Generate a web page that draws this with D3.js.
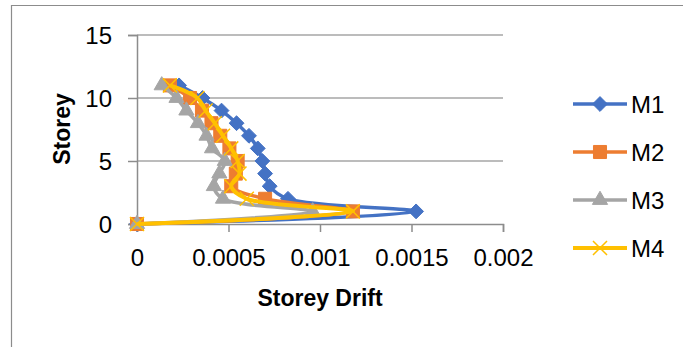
<!DOCTYPE html>
<html>
<head>
<meta charset="utf-8">
<script src="https://cdn.jsdelivr.net/npm/d3@7"></script>
<style>
  body { margin: 0; background: #fff; }
  svg { display: block; font-family: "Liberation Sans", Arial, sans-serif; }
</style>
</head>
<body>
<div id="chart"></div>
<script>
// storey levels and drift per model
let storeys = [0, 1, 2, 3, 4, 5, 6, 7, 8, 9, 10, 11];
let m1 = [0, 0.001525, 0.000825, 0.000725, 0.0007, 0.000685, 0.00066, 0.000612, 0.000544, 0.000462, 0.000358, 0.00023];
let m2 = [0, 0.00118, 0.0007, 0.000515, 0.00054, 0.00055, 0.000505, 0.000455, 0.000407, 0.000355, 0.00029, 0.00018];
let m3 = [0, 0.00096, 0.00047, 0.00042, 0.00045, 0.00048, 0.00041, 0.00038, 0.000333, 0.00027, 0.000216, 0.000135];
let m4 = [0, 0.00118, 0.0006, 0.000515, 0.00056, 0.00055, 0.000515, 0.00047, 0.000425, 0.000375, 0.00033, 0.00018];
let seriesNames = ["M1", "M2", "M3", "M4"];
let xTicks = [0, 0.0005, 0.001, 0.0015, 0.002];
let yTicks = [0, 5, 10, 15];

let colors = ["#4472C4", "#ED7D31", "#A5A5A5", "#FFC000"];

// excel-like square diamond
let squareDiamond = {
    draw: function(ctx, size) {
        let r = Math.sqrt(size / 2);
        ctx.moveTo(0, -r);
        ctx.lineTo(r, 0);
        ctx.lineTo(0, r);
        ctx.lineTo(-r, 0);
        ctx.closePath();
    }
};
let symbols = [squareDiamond, d3.symbolSquare, d3.symbolTriangle, d3.symbolX];
let symSizes = [110, 170, 100, 130];

function main() {
    let W = 683, H = 347;
    let margin = {top: 35, left: 137},
        width = 366,
        height = 189;

    let svg = d3.select("#chart").append("svg")
        .attr("width", W)
        .attr("height", H);

    // outer frame
    svg.append("path")
        .attr("d", "M11.5," + H + "V5.5H" + W)
        .attr("fill", "none")
        .attr("stroke", "#8c8c8c")
        .attr("stroke-width", 1.2);

    let g = svg.append("g")
        .attr("transform", "translate(" + margin.left + "," + margin.top + ")");

    let x = d3.scaleLinear().domain([0, 0.002]).range([0, width]);
    let y = d3.scaleLinear().domain([0, 15]).range([height, 0]);

    // gridlines
    g.selectAll(".grid")
        .data(yTicks.filter(function(d) { return d > 0; }))
        .enter()
        .append("line")
        .attr("x1", 0)
        .attr("x2", width)
        .attr("y1", function(d) { return y(d); })
        .attr("y2", function(d) { return y(d); })
        .attr("stroke", "#a6a6a6")
        .attr("stroke-width", 1.5);

    // y axis
    let yAxis = g.append("g")
        .call(d3.axisLeft(y).tickValues(yTicks).tickSize(9).tickPadding(16));
    // x axis
    let xAxis = g.append("g")
        .attr("transform", "translate(0," + height + ")")
        .call(d3.axisBottom(x).tickValues(xTicks).tickSize(8).tickPadding(17)
            .tickFormat(function(d) { return String(d); }));

    [xAxis, yAxis].forEach(function(a) {
        a.select(".domain").attr("stroke", "#8c8c8c").attr("stroke-width", 1.5);
        a.selectAll(".tick line").attr("stroke", "#8c8c8c").attr("stroke-width", 1.5);
        a.selectAll(".tick text")
            .attr("fill", "#000")
            .style("font-size", "24px")
            .style("font-family", "'Liberation Sans', Arial, sans-serif");
    });
    yAxis.selectAll(".tick text").attr("dy", "0.36em");

    // axis titles
    svg.append("text")
        .attr("x", 320)
        .attr("y", 306)
        .attr("text-anchor", "middle")
        .style("font-size", "23px")
        .style("font-weight", "bold")
        .text("Storey Drift");
    svg.append("text")
        .attr("transform", "translate(70,129) rotate(-90)")
        .attr("text-anchor", "middle")
        .style("font-size", "23px")
        .style("font-weight", "bold")
        .text("Storey");

    let all = [m1, m2, m3, m4];
    let line = d3.line()
        .x(function(d) { return x(d.v); })
        .y(function(d) { return y(d.s); })
        .curve(d3.curveCatmullRom.alpha(0.5));

    all.forEach(function(vals, i) {
        let pts = storeys.map(function(s, k) { return {s: s, v: vals[k]}; });
        let sg = g.append("g");
        sg.append("path")
            .datum(pts)
            .attr("fill", "none")
            .attr("stroke", colors[i])
            .attr("stroke-width", i === 3 ? 4 : 3.5)
            .attr("stroke-linejoin", "round")
            .attr("d", line);
        sg.selectAll("path.mk")
            .data(pts)
            .enter()
            .append("path")
            .attr("class", "mk")
            .attr("transform", function(d) { return "translate(" + x(d.v) + "," + y(d.s) + ")"; })
            .attr("d", d3.symbol().type(symbols[i]).size(symSizes[i]))
            .attr("fill", i === 3 ? "none" : colors[i])
            .attr("stroke", colors[i])
            .attr("stroke-width", i === 3 ? 1.5 : 1);
    });

    // legend
    let legendY = [104, 152, 200, 248];
    let lg = svg.append("g");
    seriesNames.forEach(function(name, i) {
        let row = lg.append("g").attr("transform", "translate(573," + legendY[i] + ")");
        row.append("line")
            .attr("x1", 0).attr("x2", 54)
            .attr("stroke", colors[i])
            .attr("stroke-width", i === 3 ? 4 : 3.5);
        row.append("path")
            .attr("transform", "translate(27,0)")
            .attr("d", d3.symbol().type(symbols[i]).size(symSizes[i]))
            .attr("fill", i === 3 ? "none" : colors[i])
            .attr("stroke", colors[i])
            .attr("stroke-width", i === 3 ? 1.5 : 1);
        row.append("text")
            .attr("x", 58)
            .attr("dy", "0.36em")
            .style("font-size", "24px")
            .text(name);
    });
}

main();
</script>
</body>
</html>
